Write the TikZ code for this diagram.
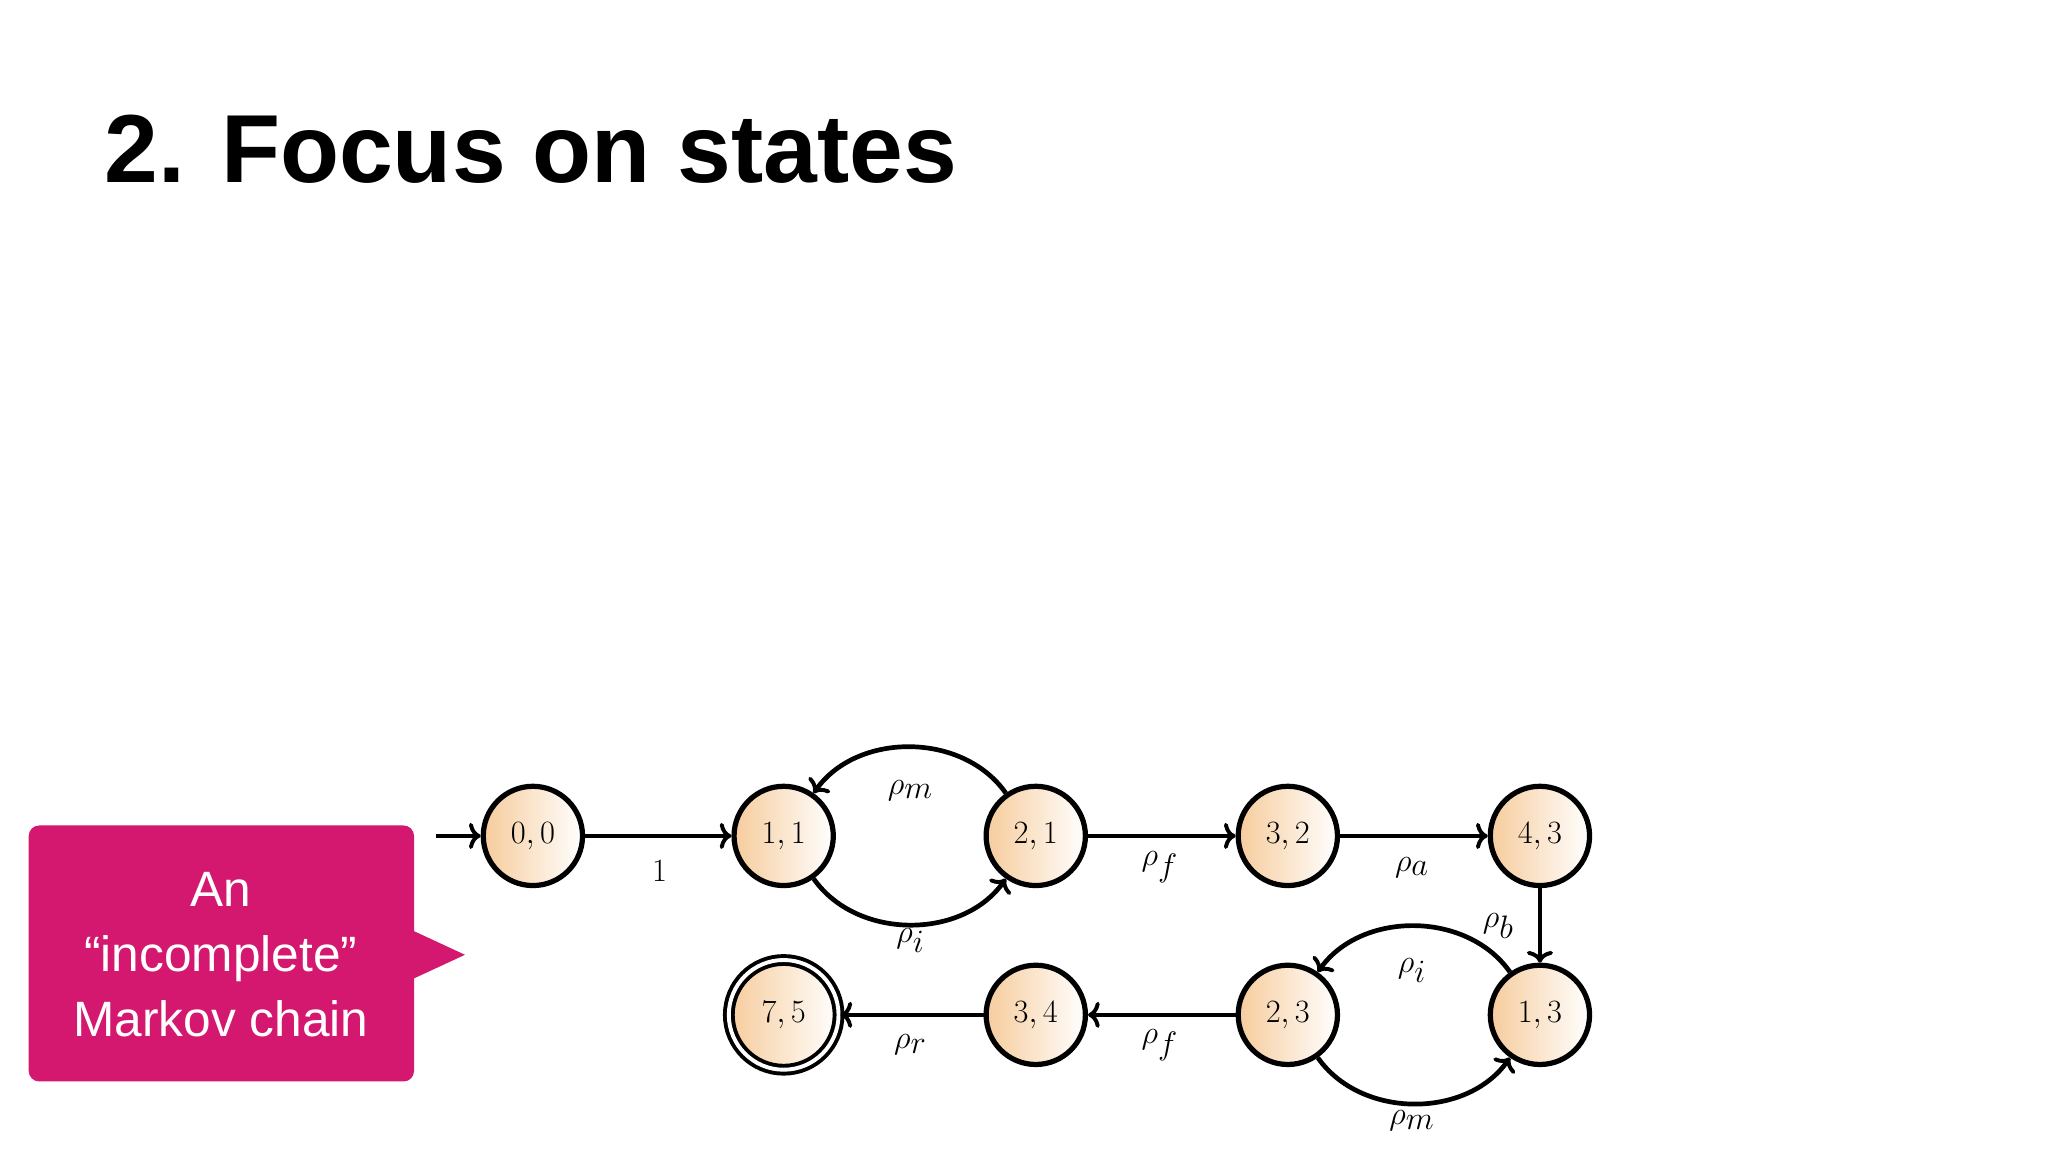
\documentclass[tikz,border=0pt]{standalone}
\usepackage{fontspec}
\setsansfont{Liberation Sans}
\usetikzlibrary{arrows.meta}
\definecolor{magentabox}{RGB}{212,24,111}
\definecolor{stfill}{RGB}{246,204,156}
\begin{document}
\begin{tikzpicture}[x=1pt,y=-1pt,
  st/.style={circle,draw=black,line width=4pt,minimum size=76pt,inner sep=0pt,
    left color=stfill,right color=white,font=\fontsize{34}{36}\selectfont},
  edge/.style={line width=3.6pt,-{To[length=9pt,width=20pt,line width=3pt]}},
  lab/.style={font=\fontsize{34}{36}\selectfont}]
\useasboundingbox (0,0) rectangle (1568,882);
\fill[white] (0,0) rectangle (1568,882);
\node[anchor=base west,font=\sffamily\bfseries\fontsize{74}{80}\selectfont,inner sep=0pt] (title) at (80,140) {2. Focus on states};
% callout
\fill[magentabox,rounded corners=8pt] (22,632) rectangle (317,828);
\fill[magentabox] (315,712) -- (356,731) -- (315,750) -- cycle;
\node[text=white,font=\sffamily\fontsize{38}{50}\selectfont,align=center] (call) at (169,731) {An\\``incomplete''\\Markov chain};
% states
\node[st] (a) at (408,640) {$0,0$};
\node[st] (b) at (600,640) {$1,1$};
\node[st] (c) at (793,640) {$2,1$};
\node[st] (d) at (986,640) {$3,2$};
\node[st] (e) at (1179,640) {$4,3$};
\node[st] (f) at (1179,777) {$1,3$};
\node[st] (g) at (986,777) {$2,3$};
\node[st] (h) at (793,777) {$3,4$};
\node[st,double=white,double distance=3pt,line width=3pt,minimum size=84pt] (k) at (600,777) {$7,5$};
\coordinate (start) at (334,640);
\draw[edge] (start) -- (a);
\draw[edge] (a) -- (b);
\draw[edge] (c) to[bend right=55] (b);
\draw[edge] (b) to[bend right=55] (c);
\draw[edge] (c) -- (d);
\draw[edge] (d) -- (e);
\draw[edge] (e) -- (f);
\draw[edge] (f) to[bend right=55] (g);
\draw[edge] (g) to[bend right=55] (f);
\draw[edge] (g) -- (h);
\draw[edge] (h) -- (k);
\node[lab] (l1) at (505,667) {$1$};
\node[lab] (l2) at (697,605) {$\rho_m$};
\node[lab] (l3) at (697,720) {$\rho_i$};
\node[lab] (l4) at (888,664) {$\rho_f$};
\node[lab] (l5) at (1081,664) {$\rho_a$};
\node[lab] (l6) at (1147,709) {$\rho_b$};
\node[lab] (l7) at (1081,743) {$\rho_i$};
\node[lab] (l8) at (1081,858) {$\rho_m$};
\node[lab] (l9) at (888,800) {$\rho_f$};
\node[lab] (l10) at (697,800) {$\rho_r$};
\end{tikzpicture}
\end{document}
